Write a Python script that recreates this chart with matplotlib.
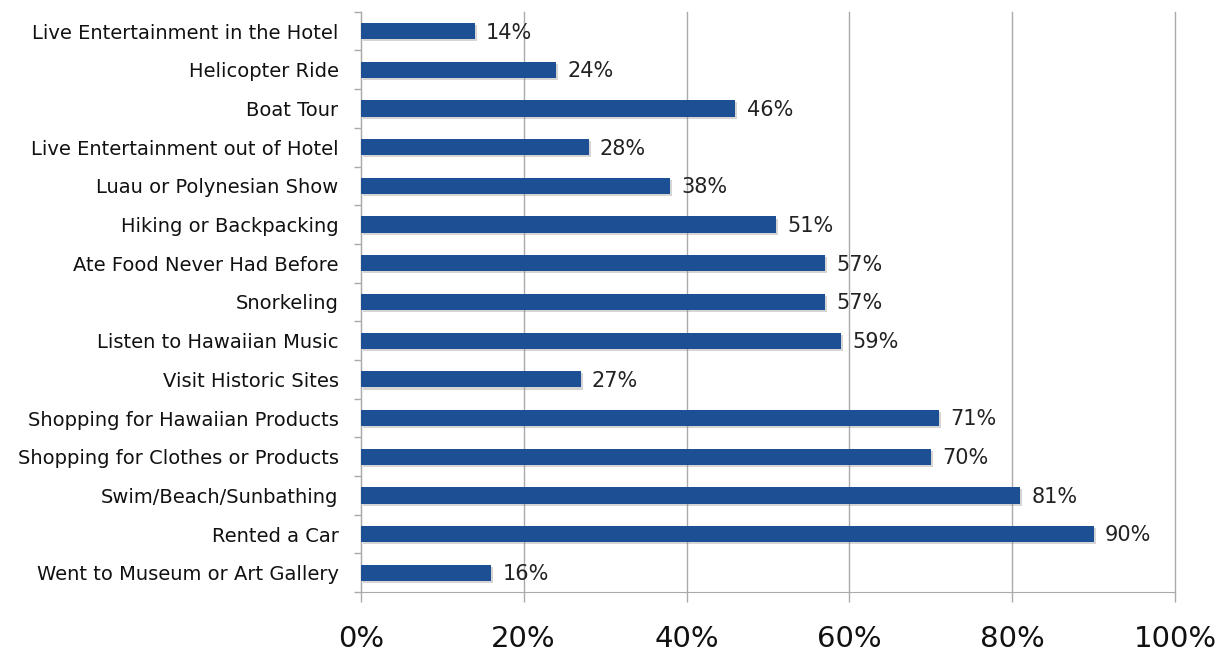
import matplotlib.pyplot as plt
import matplotlib.patheffects as pe

# activities, top to bottom
activities = [
    "Live Entertainment in the Hotel",
    "Helicopter Ride",
    "Boat Tour",
    "Live Entertainment out of Hotel",
    "Luau or Polynesian Show",
    "Hiking or Backpacking",
    "Ate Food Never Had Before",
    "Snorkeling",
    "Listen to Hawaiian Music",
    "Visit Historic Sites",
    "Shopping for Hawaiian Products",
    "Shopping for Clothes or Products",
    "Swim/Beach/Sunbathing",
    "Rented a Car",
    "Went to Museum or Art Gallery",
]
pct = [14, 24, 46, 28, 38, 51, 57, 57, 59, 27, 71, 70, 81, 90, 16]
xticks = [0, 20, 40, 60, 80, 100]

plt.rcParams['font.family'] = ['DejaVu Sans']

fig = plt.figure(figsize=(12.19, 6.55), dpi=100)
ax = fig.add_axes([0.296, 0.096, 0.668, 0.886])

n = len(activities)
ypos = list(range(n))[::-1]
bars = ax.barh(ypos, pct, height=0.42, color='#1c4f94', zorder=3)
for b in bars:
    b.set_path_effects([pe.SimplePatchShadow(offset=(1.5, -1.5), shadow_rgbFace='#888888', alpha=0.35),
                        pe.Normal()])

for y, v in zip(ypos, pct):
    ax.annotate("%d%%" % v, xy=(v, y), xytext=(8, -1), textcoords='offset points',
                va='center', ha='left', fontsize=15, color='#222222', zorder=4)

ax.set_xlim(0, 100)
ax.set_ylim(-0.5, n - 0.5)
ax.set_xticks(xticks)
ax.set_xticklabels(["%d%%" % t for t in xticks], fontsize=21, color='#111111')
ax.tick_params(axis='x', length=7, width=1, color='#aaaaaa', pad=17)

ax.set_yticks(ypos)
ax.set_yticklabels(activities, fontsize=14, color='#111111')
ax.tick_params(axis='y', length=0, pad=16)
# small tick marks between categories on the left spine
ax.set_yticks([i - 0.5 for i in range(n + 1)], minor=True)
ax.tick_params(axis='y', which='minor', length=5, width=1, color='#aaaaaa')

ax.grid(axis='x', color='#aaaaaa', linewidth=1, zorder=0)
for gl in ax.get_xgridlines():
    gl.set_clip_on(False)
for s in ['top', 'right']:
    ax.spines[s].set_visible(False)
for s in ['left', 'bottom']:
    ax.spines[s].set_color('#aaaaaa')

fig.savefig('out.png', dpi=100)
